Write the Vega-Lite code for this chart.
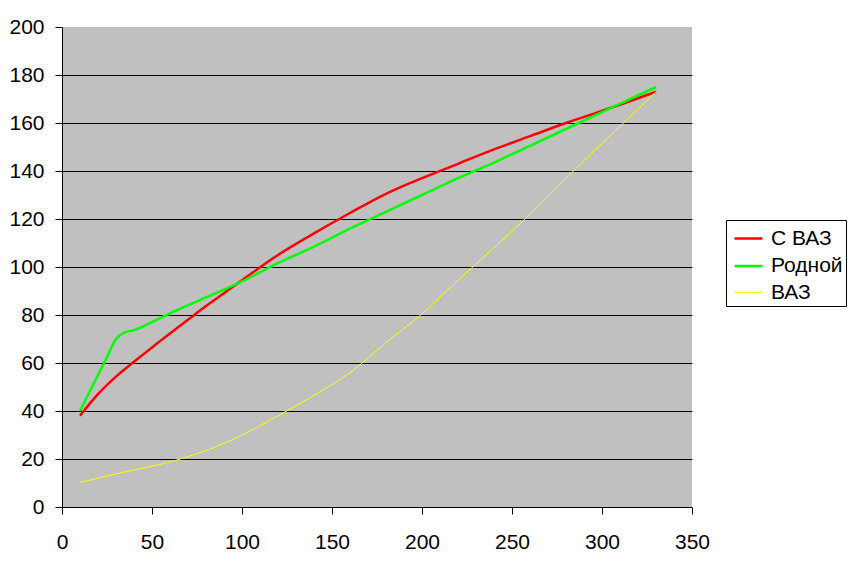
{
  "$schema": "https://vega.github.io/schema/vega-lite/v6.json",
  "width": 630,
  "height": 480,
  "autosize": "none",
  "padding": {"left": 62, "top": 27, "right": 161, "bottom": 55},
  "background": "white",
  "config": {
    "font": "Liberation Sans",
    "view": {"fill": "#c0c0c0", "stroke": null},
    "axis": {
      "labelFont": "Liberation Sans",
      "labelFontSize": 21,
      "labelColor": "black",
      "domainColor": "black",
      "tickColor": "black",
      "gridColor": "black",
      "domainWidth": 1,
      "tickWidth": 1,
      "gridWidth": 1,
      "tickSize": 7,
      "title": null
    }
  },
  "data": {
    "values": [
      {"x": 10, "y": 38, "s": "С ВАЗ"},
      {"x": 20, "y": 47, "s": "С ВАЗ"},
      {"x": 30, "y": 54.3, "s": "С ВАЗ"},
      {"x": 40, "y": 60.5, "s": "С ВАЗ"},
      {"x": 50, "y": 66.5, "s": "С ВАЗ"},
      {"x": 60, "y": 72.3, "s": "С ВАЗ"},
      {"x": 70, "y": 78, "s": "С ВАЗ"},
      {"x": 80, "y": 83.7, "s": "С ВАЗ"},
      {"x": 90, "y": 89.1, "s": "С ВАЗ"},
      {"x": 100, "y": 94.5, "s": "С ВАЗ"},
      {"x": 120, "y": 105, "s": "С ВАЗ"},
      {"x": 140, "y": 114, "s": "С ВАЗ"},
      {"x": 160, "y": 122.5, "s": "С ВАЗ"},
      {"x": 180, "y": 130.5, "s": "С ВАЗ"},
      {"x": 200, "y": 137, "s": "С ВАЗ"},
      {"x": 220, "y": 143, "s": "С ВАЗ"},
      {"x": 240, "y": 149, "s": "С ВАЗ"},
      {"x": 260, "y": 154.5, "s": "С ВАЗ"},
      {"x": 280, "y": 160, "s": "С ВАЗ"},
      {"x": 300, "y": 165, "s": "С ВАЗ"},
      {"x": 330, "y": 173, "s": "С ВАЗ"},
      {"x": 10, "y": 40, "s": "Родной"},
      {"x": 20, "y": 55, "s": "Родной"},
      {"x": 25, "y": 62.5, "s": "Родной"},
      {"x": 30, "y": 70, "s": "Родной"},
      {"x": 35, "y": 72.8, "s": "Родной"},
      {"x": 40, "y": 73.7, "s": "Родной"},
      {"x": 50, "y": 77, "s": "Родной"},
      {"x": 60, "y": 80.7, "s": "Родной"},
      {"x": 80, "y": 87.3, "s": "Родной"},
      {"x": 100, "y": 94, "s": "Родной"},
      {"x": 120, "y": 101.6, "s": "Родной"},
      {"x": 140, "y": 108.5, "s": "Родной"},
      {"x": 160, "y": 116, "s": "Родной"},
      {"x": 180, "y": 123, "s": "Родной"},
      {"x": 200, "y": 130, "s": "Родной"},
      {"x": 220, "y": 137, "s": "Родной"},
      {"x": 240, "y": 143.5, "s": "Родной"},
      {"x": 260, "y": 150.5, "s": "Родной"},
      {"x": 280, "y": 157.5, "s": "Родной"},
      {"x": 300, "y": 164.5, "s": "Родной"},
      {"x": 330, "y": 175, "s": "Родной"},
      {"x": 10, "y": 10.3, "s": "ВАЗ"},
      {"x": 20, "y": 12, "s": "ВАЗ"},
      {"x": 30, "y": 13.8, "s": "ВАЗ"},
      {"x": 40, "y": 15.4, "s": "ВАЗ"},
      {"x": 50, "y": 17, "s": "ВАЗ"},
      {"x": 60, "y": 18.8, "s": "ВАЗ"},
      {"x": 70, "y": 21, "s": "ВАЗ"},
      {"x": 80, "y": 23.5, "s": "ВАЗ"},
      {"x": 90, "y": 26.5, "s": "ВАЗ"},
      {"x": 100, "y": 30, "s": "ВАЗ"},
      {"x": 120, "y": 38, "s": "ВАЗ"},
      {"x": 140, "y": 46.5, "s": "ВАЗ"},
      {"x": 160, "y": 56, "s": "ВАЗ"},
      {"x": 180, "y": 68.5, "s": "ВАЗ"},
      {"x": 200, "y": 80.5, "s": "ВАЗ"},
      {"x": 220, "y": 94.5, "s": "ВАЗ"},
      {"x": 240, "y": 108, "s": "ВАЗ"},
      {"x": 260, "y": 122, "s": "ВАЗ"},
      {"x": 280, "y": 137, "s": "ВАЗ"},
      {"x": 300, "y": 151.5, "s": "ВАЗ"},
      {"x": 330, "y": 173, "s": "ВАЗ"}
    ]
  },
  "mark": {"type": "line", "interpolate": "monotone"},
  "encoding": {
    "x": {
      "field": "x",
      "type": "quantitative",
      "scale": {"domain": [0, 350], "nice": false},
      "axis": {"values": [0, 50, 100, 150, 200, 250, 300, 350], "grid": false, "labelPadding": 17, "labelFlush": false}
    },
    "y": {
      "field": "y",
      "type": "quantitative",
      "scale": {"domain": [0, 200], "nice": false},
      "axis": {
        "values": [0, 20, 40, 60, 80, 100, 120, 140, 160, 180, 200],
        "grid": true,
        "gridOpacity": {"condition": {"test": "datum.value == 200 || datum.value == 0", "value": 0}, "value": 1},
        "labelPadding": 11,
        "labelFlush": false
      }
    },
    "color": {
      "field": "s",
      "type": "nominal",
      "sort": ["С ВАЗ", "Родной", "ВАЗ"],
      "scale": {"domain": ["С ВАЗ", "Родной", "ВАЗ"], "range": ["#ff0000", "#00ff00", "#ffff00"]},
      "legend": {
        "title": null,
        "orient": "none",
        "legendX": 664,
        "legendY": 193,
        "strokeColor": "black",
        "fillColor": "white",
        "padding": 3,
        "symbolType": "stroke",
        "symbolSize": 784,
        "symbolOffset": 4,
        "symbolStrokeWidth": 2,
        "labelFontSize": 21,
        "labelFont": "Liberation Sans",
        "labelColor": "black",
        "labelOffset": 7,
        "rowPadding": 1.5,
        "encode": {
          "symbols": {
            "update": {
              "strokeWidth": [{"test": "datum.value === 'ВАЗ'", "value": 1}, {"value": 2}]
            }
          }
        }
      }
    },
    "strokeWidth": {
      "field": "s",
      "type": "nominal",
      "scale": {"type": "ordinal", "domain": ["С ВАЗ", "Родной", "ВАЗ"], "range": [2.5, 2.5, 1]},
      "legend": null
    }
  }
}
